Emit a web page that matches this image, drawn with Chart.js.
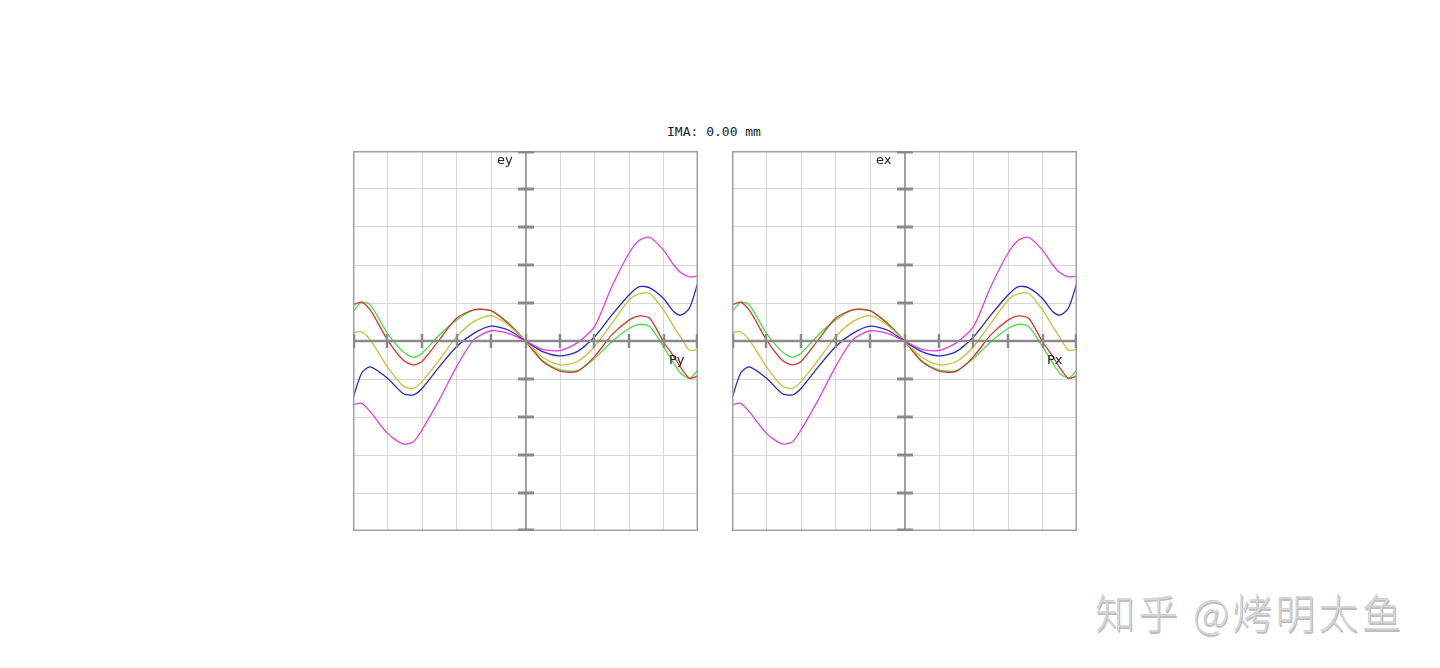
<!DOCTYPE html>
<html>
<head>
<meta charset="utf-8">
<script src="https://cdn.jsdelivr.net/npm/chart.js@4.4.1/dist/chart.umd.min.js"></script>
<style>
  body { margin: 0; background: #fff; width: 1440px; height: 668px; position: relative; overflow: hidden; }
  .box { position: absolute; top: 151px; width: 345px; height: 380px; }
  #title { position: absolute; top: 124px; left: 0; width: 1428px; text-align: center;
           font: 13px "DejaVu Sans Mono", monospace; color: #222; }
  .lbl { position: absolute; font: 13px "DejaVu Sans", sans-serif; color: #222; }
  #mark { position: absolute; left: 1095px; top: 582px; font: 300 40px "Noto Sans CJK SC", sans-serif;
          color: #d4d4d4; text-shadow: 1px 2px 0 #bdbdbd; letter-spacing: 3px; }
</style>
</head>
<body>
<div id="title">IMA: 0.00 mm</div>
<div class="box" style="left:353px"><canvas id="ey"></canvas></div>
<div class="box" style="left:732px"><canvas id="ex"></canvas></div>
<div class="lbl" style="left:497px;top:152px">ey</div>
<div class="lbl" style="left:669px;top:352px">Py</div>
<div class="lbl" style="left:876px;top:152px">ex</div>
<div class="lbl" style="left:1047px;top:352px">Px</div>
<div id="mark">知乎 @烤明太鱼</div>

<script>
// pupil coordinate (Px / Py), -1 .. 1
var pupil = [-1, -0.95, -0.9, -0.8, -0.71, -0.65, -0.6, -0.5, -0.4, -0.3, -0.2, -0.1, 0,
             0.1, 0.2, 0.3, 0.4, 0.5, 0.6, 0.66, 0.72, 0.8, 0.86, 0.9, 0.95, 1];

// ray aberration, one series per wavelength (in grid divisions)
var magenta = [-1.68, -1.64, -1.86, -2.43, -2.71, -2.65, -2.34, -1.55, -0.68, 0.03, 0.27, 0.2, 0,
               -0.22, -0.25, -0.05, 0.38, 1.43, 2.31, 2.65, 2.73, 2.39, 2.0, 1.8, 1.69, 1.71];
var blue    = [-1.51, -0.85, -0.68, -0.98, -1.38, -1.42, -1.25, -0.68, -0.15, 0.2, 0.39, 0.29, 0,
               -0.28, -0.39, -0.28, 0.11, 0.68, 1.21, 1.43, 1.40, 1.12, 0.77, 0.68, 0.86, 1.54];
var yellow  = [0.22, 0.24, 0.03, -0.68, -1.18, -1.25, -1.07, -0.5, 0.11, 0.51, 0.67, 0.42, 0,
               -0.43, -0.63, -0.54, -0.15, 0.46, 1.08, 1.24, 1.25, 0.82, 0.38, 0.1, -0.24, -0.22];
var red     = [0.95, 1.02, 0.82, 0.03, -0.5, -0.63, -0.54, 0.03, 0.6, 0.82, 0.8, 0.46, 0,
               -0.54, -0.79, -0.8, -0.41, 0.16, 0.55, 0.66, 0.6, -0.02, -0.41, -0.7, -0.98, -0.92];
var green   = [0.77, 1.02, 0.95, 0.2, -0.28, -0.43, -0.32, 0.16, 0.55, 0.82, 0.8, 0.48, 0,
               -0.52, -0.76, -0.78, -0.46, -0.02, 0.33, 0.44, 0.38, -0.15, -0.59, -0.85, -0.98, -0.76];

// the two fans are the same in the picture
var eyValues = [magenta, blue, yellow, red, green];
var exValues = [magenta, blue, yellow, red, green];
var colors = ['#e23ee2', '#2a2ac4', '#c9c03a', '#d43a2e', '#45e045'];

function toPoints(arr) {
    return pupil.map(function(p, i) { return { x: p, y: arr[i] }; });
}

// frame + center axes with tick marks, like the zemax fan plot
var fanAxes = {
    id: 'fanAxes',
    afterDatasetsDraw: function(chart) {
        var c = chart.ctx, xs = chart.scales.x, ys = chart.scales.y, a = chart.chartArea;
        var x0 = Math.round(xs.getPixelForValue(0)), y0 = Math.round(ys.getPixelForValue(0));
        c.save();
        c.strokeStyle = '#a0a0a0';
        c.lineWidth = 1.5;
        c.strokeRect(a.left + 0.75, a.top + 0.75, a.right - a.left - 1.5, a.bottom - a.top - 1.5);

        c.strokeStyle = '#8a8a8a';
        c.lineWidth = 1.5;
        c.beginPath(); c.moveTo(x0, a.top); c.lineTo(x0, a.bottom); c.stroke();
        c.lineWidth = 3;
        for (var v = -5; v <= 5; v++) {
            if (v === 0) continue;
            var py = Math.round(ys.getPixelForValue(v));
            py = Math.min(Math.max(py, a.top + 1), a.bottom - 1);
            c.beginPath(); c.moveTo(x0 - 8, py); c.lineTo(x0 + 8, py); c.stroke();
        }
        c.lineWidth = 2.5;
        c.beginPath(); c.moveTo(a.left, y0); c.lineTo(a.right, y0); c.stroke();
        for (var t = -5; t <= 5; t++) {
            var px = Math.round(xs.getPixelForValue(t / 5));
            px = Math.min(Math.max(px, a.left + 1), a.right - 1);
            c.beginPath(); c.moveTo(px, y0 - 7); c.lineTo(px, y0 + 7); c.stroke();
        }
        c.restore();
    }
};

function makeFan(id, series) {
    var ctx = document.getElementById(id).getContext('2d');
    return new Chart(ctx, {
        type: 'scatter',
        data: {
            datasets: series.map(function(s, i) {
                return {
                    data: toPoints(s),
                    showLine: true,
                    borderColor: colors[i],
                    borderWidth: 1.3,
                    pointRadius: 0,
                    tension: 0.25,
                    fill: false
                };
            })
        },
        options: {
            responsive: true,
            maintainAspectRatio: false,
            animation: false,
            layout: { padding: 0 },
            plugins: { legend: { display: false }, tooltip: { enabled: false } },
            scales: {
                x: {
                    min: -1, max: 1,
                    ticks: { display: false, stepSize: 0.2 },
                    grid: { color: '#d6d6d6', lineWidth: 1, drawTicks: false },
                    border: { display: false }
                },
                y: {
                    min: -5, max: 5,
                    ticks: { display: false, stepSize: 1 },
                    grid: { color: '#d6d6d6', lineWidth: 1, drawTicks: false },
                    border: { display: false }
                }
            }
        },
        plugins: [fanAxes]
    });
}

makeFan('ey', eyValues);
makeFan('ex', exValues);
</script>
</body>
</html>
